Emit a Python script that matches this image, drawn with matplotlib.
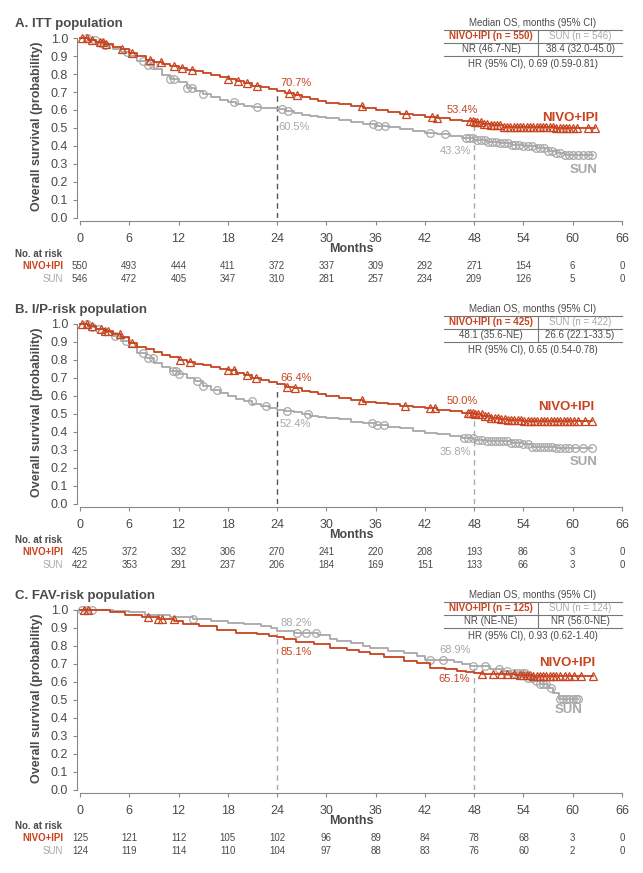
import numpy as np
import matplotlib
matplotlib.use("Agg")
import matplotlib.pyplot as plt
from matplotlib.lines import Line2D
from matplotlib.transforms import blended_transform_factory

plt.rcParams['font.family'] = ['Liberation Sans', 'DejaVu Sans']

RED = '#C8431E'
GRAY = '#A8A8A8'
TXT = '#4A4A4A'
W, H = 643, 873

# ---- panel A: ITT ----
a_nivo_t = [0, 1, 2, 3, 4, 5, 6, 7, 8, 9, 10, 11, 12, 13, 14, 15, 16, 17, 18, 19, 20, 21, 22, 23, 24,
            25, 26, 27, 28, 29, 30, 31.5, 33, 34.5, 36, 37.5, 39, 40.5, 42, 43.5, 45, 46.5, 48, 49, 50,
            51.5, 53, 55, 58, 62.7]
a_nivo_s = [1.0, 0.99, 0.98, 0.965, 0.952, 0.938, 0.915, 0.9, 0.878, 0.866, 0.856, 0.845, 0.835, 0.825,
            0.815, 0.805, 0.795, 0.783, 0.772, 0.76, 0.748, 0.735, 0.727, 0.717, 0.707, 0.695, 0.682,
            0.67, 0.66, 0.65, 0.64, 0.632, 0.62, 0.61, 0.6, 0.59, 0.578, 0.57, 0.56, 0.553, 0.547, 0.54,
            0.534, 0.525, 0.515, 0.508, 0.505, 0.503, 0.5, 0.5]
a_nivo_cens = [0.3, 0.8, 1.5, 2.4, 2.8, 3.2, 5.1, 6.3, 8.5, 9.9, 11.4, 12.4, 13.6, 18.0, 19.3, 20.3, 21.5,
               25.4, 26.4, 34.3, 39.7, 42.9, 43.5, 47.5, 47.8, 48.1, 48.4, 48.8, 49.2, 49.6, 50.0, 50.4,
               50.8, 51.2, 51.6, 52.0, 52.4, 52.8, 53.2, 53.6, 54.0, 54.4, 54.8, 55.2, 55.6, 56.0, 56.4,
               56.8, 57.2, 57.6, 58.0, 58.4, 58.8, 59.2, 59.6, 60.0, 60.5, 61.8, 62.7]
a_sun_t = [0, 1, 2, 3, 4, 5, 6, 7, 8, 9, 10, 11, 12, 13, 14, 15, 16, 17, 18, 19, 20, 21, 22, 23, 24, 25,
           26, 27, 28, 29, 30, 31.5, 33, 34.5, 36, 37.5, 39, 40.5, 42, 43.5, 45, 46.5, 48, 49.5, 51, 52.5,
           54, 55.5, 57, 58, 59, 60, 62.5]
a_sun_s = [1.0, 0.99, 0.975, 0.96, 0.94, 0.92, 0.9, 0.87, 0.85, 0.83, 0.795, 0.775, 0.755, 0.725, 0.705,
           0.69, 0.67, 0.655, 0.645, 0.632, 0.625, 0.618, 0.613, 0.61, 0.605, 0.595, 0.585, 0.575, 0.567,
           0.56, 0.555, 0.545, 0.535, 0.522, 0.51, 0.505, 0.495, 0.485, 0.472, 0.465, 0.455, 0.445, 0.433,
           0.425, 0.415, 0.405, 0.398, 0.388, 0.375, 0.362, 0.352, 0.35, 0.35]
a_sun_cens = [0.8, 1.8, 2.5, 3.0, 5.7, 7.7, 8.3, 8.9, 11.0, 11.4, 13.0, 13.6, 15.0, 18.8, 21.5, 24.6,
              25.3, 35.7, 36.3, 37.1, 42.6, 44.5, 47.0, 47.4, 47.8, 48.3, 48.8, 49.3, 49.7, 50.2, 50.7,
              51.1, 51.6, 52.1, 52.6, 53.0, 53.5, 54.0, 54.5, 55.0, 55.5, 56.0, 56.5, 57.0, 57.5, 58.0,
              58.5, 59.0, 59.5, 60.0, 60.6, 61.2, 61.8, 62.4]
a_risk_nivo = [550, 493, 444, 411, 372, 337, 309, 292, 271, 154, 6, 0]
a_risk_sun = [546, 472, 405, 347, 310, 281, 257, 234, 209, 126, 5, 0]

# ---- panel B: I/P-risk ----
b_nivo_t = [0, 1, 2, 3, 4, 5, 6, 7, 8, 9, 10, 11, 12, 13, 14, 15, 16, 17, 18, 19, 20, 21, 22, 23, 24,
            25, 26, 27, 28, 29, 30, 31.5, 33, 34.5, 36, 37.5, 39, 40.5, 42, 43.5, 45, 46.5, 48, 49, 50,
            51, 52, 54, 57, 62.3]
b_nivo_s = [1.0, 0.99, 0.975, 0.96, 0.945, 0.93, 0.895, 0.875, 0.86, 0.845, 0.83, 0.815, 0.8, 0.79, 0.78,
            0.77, 0.762, 0.752, 0.744, 0.73, 0.715, 0.7, 0.69, 0.677, 0.664, 0.652, 0.642, 0.63, 0.62,
            0.61, 0.598, 0.588, 0.578, 0.568, 0.56, 0.553, 0.545, 0.538, 0.531, 0.524, 0.517, 0.508, 0.5,
            0.49, 0.48, 0.472, 0.466, 0.463, 0.462, 0.462]
b_nivo_cens = [0.3, 0.9, 1.5, 2.5, 3.0, 3.4, 4.9, 6.3, 12.2, 13.4, 18.0, 18.8, 20.3, 21.4, 25.2, 26.2,
               34.3, 39.6, 42.6, 43.2, 47.2, 47.5, 47.8, 48.1, 48.5, 48.9, 49.3, 49.7, 50.1, 50.5, 50.9,
               51.3, 51.7, 52.1, 52.5, 52.9, 53.3, 53.7, 54.1, 54.5, 54.9, 55.3, 55.7, 56.1, 56.5, 56.9,
               57.3, 57.7, 58.1, 58.5, 58.9, 59.3, 59.7, 60.1, 60.6, 61.5, 62.3]
b_sun_t = [0, 1, 2, 3, 4, 5, 6, 7, 8, 9, 10, 11, 12, 13, 14, 15, 16, 17, 18, 19, 20, 21, 22, 23, 24, 25,
           26, 27, 28, 29, 30, 31.5, 33, 34.5, 36, 37.5, 39, 40.5, 42, 43.5, 45, 46.5, 48, 49.5, 51, 52.5,
           54, 55, 56, 58, 62.3]
b_sun_s = [1.0, 0.985, 0.975, 0.955, 0.935, 0.905, 0.875, 0.84, 0.81, 0.785, 0.76, 0.74, 0.72, 0.7, 0.685,
           0.655, 0.635, 0.617, 0.6, 0.585, 0.57, 0.555, 0.545, 0.535, 0.524, 0.518, 0.51, 0.5, 0.49,
           0.482, 0.477, 0.47, 0.458, 0.448, 0.438, 0.43, 0.42, 0.405, 0.395, 0.387, 0.38, 0.368, 0.358,
           0.352, 0.348, 0.34, 0.333, 0.318, 0.315, 0.313, 0.313]
b_sun_cens = [0.8, 1.5, 2.3, 4.3, 5.6, 7.7, 8.3, 8.9, 11.3, 11.7, 12.0, 14.2, 15.0, 16.7, 20.9, 22.7,
              25.2, 27.8, 35.5, 36.2, 37.0, 46.7, 47.2, 47.8, 48.5, 49.0, 49.5, 50.0, 50.5, 51.0, 51.5,
              52.0, 52.5, 53.0, 53.5, 54.0, 54.5, 55.0, 55.5, 56.0, 56.5, 57.0, 57.5, 58.0, 58.5, 59.0,
              59.5, 60.3, 61.3, 62.3]
b_risk_nivo = [425, 372, 332, 306, 270, 241, 220, 208, 193, 86, 3, 0]
b_risk_sun = [422, 353, 291, 237, 206, 184, 169, 151, 133, 66, 3, 0]

# ---- panel C: FAV-risk ----
c_nivo_t = [0, 3.6, 5.5, 7.5, 9.5, 11.5, 12.6, 14.5, 16.7, 19, 21.6, 23, 24, 24.8, 26.3, 28.5, 30.5,
            32.5, 34, 35.3, 37, 39.4, 41, 42.6, 44.5, 45.9, 47, 48, 49, 53, 55, 62.5]
c_nivo_s = [1.0, 0.99, 0.975, 0.96, 0.95, 0.94, 0.92, 0.91, 0.887, 0.875, 0.865, 0.858, 0.851, 0.84,
            0.824, 0.81, 0.79, 0.78, 0.768, 0.755, 0.74, 0.717, 0.705, 0.68, 0.672, 0.661, 0.656, 0.651,
            0.645, 0.638, 0.632, 0.632]
c_nivo_cens = [0.5, 1.0, 8.3, 9.5, 10.0, 11.4, 49.0, 50.3, 51.3, 52.0, 52.8, 53.6, 54.0, 54.4, 54.8,
               55.2, 55.6, 56.0, 56.4, 56.8, 57.2, 57.6, 58.0, 58.5, 59.0, 59.6, 60.2, 61.0, 62.5]
c_sun_t = [0, 4, 6, 7.9, 8.9, 11, 13.8, 16, 18, 20, 22, 23.3, 24, 26, 29, 30.45, 31.3, 33, 34.5, 35.3,
           37.5, 39.4, 41, 42, 45.5, 46.5, 47.5, 49.9, 51.5, 52.4, 54.4, 55.5, 56, 57, 57.6, 58.3, 60.7]
c_sun_s = [1.0, 0.995, 0.99, 0.975, 0.97, 0.96, 0.95, 0.94, 0.93, 0.92, 0.91, 0.9, 0.882, 0.872, 0.86,
           0.84, 0.828, 0.815, 0.8, 0.79, 0.775, 0.763, 0.745, 0.722, 0.71, 0.7, 0.689, 0.67, 0.66,
           0.652, 0.624, 0.605, 0.587, 0.565, 0.54, 0.504, 0.504]
c_sun_cens = [0.2, 0.8, 1.5, 13.8, 26.4, 27.5, 28.7, 42.6, 44.2, 47.9, 49.3, 51.0, 52.0, 52.8, 53.3,
              53.8, 54.2, 54.6, 55.0, 55.5, 56.0, 56.4, 56.8, 57.3, 58.4, 58.8, 59.2, 59.6, 60.0, 60.4,
              60.7]
c_risk_nivo = [125, 121, 112, 105, 102, 96, 89, 84, 78, 68, 3, 0]
c_risk_sun = [124, 119, 114, 110, 104, 97, 88, 83, 76, 60, 2, 0]

risk_months = [0, 6, 12, 18, 24, 30, 36, 42, 48, 54, 60, 66]

panels = [
    dict(title='A. ITT population', ytop=38,
         nivo=(a_nivo_t, a_nivo_s, a_nivo_cens), sun=(a_sun_t, a_sun_s, a_sun_cens),
         risk=(a_risk_nivo, a_risk_sun), n=('550', '546'),
         med=('NR (46.7\u2011NE)', '38.4 (32.0\u201145.0)'), hr='HR (95% CI), 0.69 (0.59\u20110.81)',
         dash=[(24, 0.69, '#555555'), (48, 0.53, '#AAAAAA')],
         labels=[('70.7%', 24.4, 0.75, 'left', RED), ('60.5%', 24.2, 0.506, 'left', GRAY),
                 ('53.4%', 44.6, 0.60, 'left', RED), ('43.3%', 47.6, 0.372, 'right', GRAY)],
         names=((63.1, 0.556), (63.0, 0.267))),
    dict(title='B. I/P-risk population', ytop=324,
         nivo=(b_nivo_t, b_nivo_s, b_nivo_cens), sun=(b_sun_t, b_sun_s, b_sun_cens),
         risk=(b_risk_nivo, b_risk_sun), n=('425', '422'),
         med=('48.1 (35.6\u2011NE)', '26.6 (22.1\u201133.5)'), hr='HR (95% CI), 0.65 (0.54\u20110.78)',
         dash=[(24, 0.65, '#555555'), (48, 0.49, '#AAAAAA')],
         labels=[('66.4%', 24.4, 0.70, 'left', RED), ('52.4%', 24.3, 0.444, 'left', GRAY),
                 ('50.0%', 44.6, 0.572, 'left', RED), ('35.8%', 47.6, 0.289, 'right', GRAY)],
         names=((62.6, 0.539), (63.0, 0.233))),
    dict(title='C. FAV-risk population', ytop=610,
         nivo=(c_nivo_t, c_nivo_s, c_nivo_cens), sun=(c_sun_t, c_sun_s, c_sun_cens),
         risk=(c_risk_nivo, c_risk_sun), n=('125', '124'),
         med=('NR (NE\u2011NE)', 'NR (56.0\u2011NE)'), hr='HR (95% CI), 0.93 (0.62\u20111.40)',
         dash=[(24, 0.875, '#AAAAAA'), (48, 0.685, '#AAAAAA')],
         labels=[('88.2%', 24.4, 0.928, 'left', GRAY), ('85.1%', 24.4, 0.767, 'left', RED),
                 ('68.9%', 47.6, 0.778, 'right', GRAY), ('65.1%', 47.5, 0.617, 'right', RED)],
         names=((62.8, 0.706), (61.2, 0.444))),
]

fig = plt.figure(figsize=(W / 100, H / 100), dpi=100)


def fx(px):
    return px / W


def fy(py):
    return 1 - py / H


def hline(x0, x1, py):
    fig.add_artist(Line2D([fx(x0), fx(x1)], [fy(py), fy(py)], color='#777777', lw=0.8))


def vline(px, y0, y1):
    fig.add_artist(Line2D([fx(px), fx(px)], [fy(y0), fy(y1)], color='#777777', lw=0.8))


def step_value(t, s, c):
    idx = np.searchsorted(t, c, side='right') - 1
    return np.asarray(s)[idx]


for p in panels:
    top = p['ytop']
    base = top + 180
    ax = fig.add_axes([fx(80), fy(base), fx(622) - fx(80), 180 / H])
    ax.set_xlim(0, 66)
    ax.set_ylim(0, 1.0)
    for side in ['top', 'right']:
        ax.spines[side].set_visible(False)
    for side in ['left', 'bottom']:
        ax.spines[side].set_color('#888888')
        ax.spines[side].set_position(('outward', 2.5))
    ax.spines['left'].set_bounds(0, 1.0)
    ax.set_xticks(risk_months)
    ax.set_yticks(np.arange(0, 1.01, 0.1))
    ax.set_yticklabels([f'{v:.1f}' for v in np.arange(0, 1.01, 0.1)])
    ax.tick_params(colors='#888888', labelcolor=TXT, labelsize=9, length=3, width=0.8, pad=3)
    ax.tick_params(axis='x', pad=5)
    ax.patch.set_alpha(0)

    for x, ytop_d, col in p['dash']:
        ax.vlines(x, 0, ytop_d, colors=col, linestyles=(0, (4, 3)), lw=1.0)

    for (t, s, cens), col, mk in [(p['sun'], GRAY, 'o'), (p['nivo'], RED, '^')]:
        ax.step(t, s, where='post', color=col, lw=1.3, clip_on=False)
        ax.plot(cens, step_value(t, s, cens), ls='none', marker=mk, ms=5.5, mfc='none',
                mec=col, mew=0.9, clip_on=False)

    for txt, x, y, ha, col in p['labels']:
        ax.text(x, y, txt, ha=ha, va='center', color=col, fontsize=8)
    ax.text(p['names'][0][0], p['names'][0][1], 'NIVO+IPI', ha='right', va='center', color=RED,
            fontsize=9.5, fontweight='bold')
    ax.text(p['names'][1][0], p['names'][1][1], 'SUN', ha='right', va='center', color=GRAY,
            fontsize=9.5, fontweight='bold')

    # titles and axis labels
    fig.text(fx(15), fy(top - 14), p['title'], ha='left', va='center', color=TXT, fontsize=9.5,
             fontweight='bold')
    fig.text(fx(37), fy(top + 88), 'Overall survival (probability)', rotation=90, ha='center',
             va='center', color=TXT, fontsize=9, fontweight='bold')
    fig.text(fx(351), fy(base + 31), 'Months', ha='center', va='center', color=TXT, fontsize=9,
             fontweight='bold')

    # number at risk
    tr = blended_transform_factory(ax.transData, fig.transFigure)
    fig.text(fx(15), fy(base + 36), 'No. at risk', ha='left', va='center', color=TXT, fontsize=7,
             fontweight='bold')
    fig.text(fx(63), fy(base + 48), 'NIVO+IPI', ha='right', va='center', color=RED, fontsize=7,
             fontweight='bold')
    fig.text(fx(63), fy(base + 61), 'SUN', ha='right', va='center', color=GRAY, fontsize=7)
    for m, v1, v2 in zip(risk_months, p['risk'][0], p['risk'][1]):
        ax.text(m, fy(base + 48), str(v1), transform=tr, ha='center', va='center', color=TXT,
                fontsize=7)
        ax.text(m, fy(base + 61), str(v2), transform=tr, ha='center', va='center', color=TXT,
                fontsize=7)

    # median OS table
    h = top - 15
    fig.text(fx(533), fy(h), 'Median OS, months (95% CI)', ha='center', va='center', color=TXT,
             fontsize=7)
    hline(444, 622, h + 7)
    hline(444, 622, h + 19.5)
    hline(444, 622, h + 33)
    vline(538, h + 7, h + 33)
    fig.text(fx(491), fy(h + 13), f'NIVO+IPI (n = {p["n"][0]})', ha='center', va='center',
             color=RED, fontsize=7, fontweight='bold')
    fig.text(fx(580), fy(h + 13), f'SUN (n = {p["n"][1]})', ha='center', va='center', color=GRAY,
             fontsize=7)
    fig.text(fx(491), fy(h + 26), p['med'][0], ha='center', va='center', color=TXT, fontsize=7)
    fig.text(fx(580), fy(h + 26), p['med'][1], ha='center', va='center', color=TXT, fontsize=7)
    fig.text(fx(533), fy(h + 41), p['hr'], ha='center', va='center', color=TXT, fontsize=7)

fig.savefig('out.png', dpi=100, facecolor='white')
